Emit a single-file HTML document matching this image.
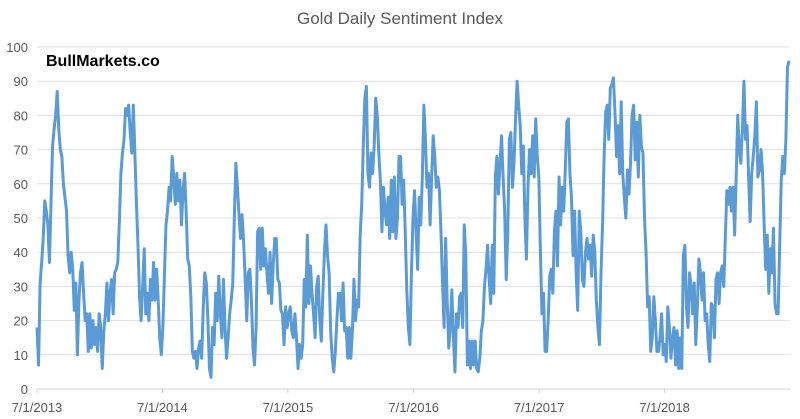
<!DOCTYPE html>
<html><head><meta charset="utf-8">
<style>
html,body{margin:0;padding:0;background:#fff;}
svg{display:block;font-family:"Liberation Sans",sans-serif;}
</style></head>
<body>
<svg id="chart" width="800" height="419" viewBox="0 0 800 419" xmlns="http://www.w3.org/2000/svg">
<rect width="800" height="419" fill="#fff"/>
<text x="400" y="24" text-anchor="middle" font-size="17" fill="#595959">Gold Daily Sentiment Index</text>
<g id="grid"></g>
<g id="yaxis"></g>
<g id="xaxis"></g>
<g id="series"></g>
<text x="46" y="66" font-size="16" font-weight="bold" fill="#000">BullMarkets.co</text>
</svg>
<script>
const yTicks = [0,10,20,30,40,50,60,70,80,90,100];
const xTickLabels = ["7/1/2013","7/1/2014","7/1/2015","7/1/2016","7/1/2017","7/1/2018"];
const xTickDates = ["2013-07-01","2014-07-01","2015-07-01","2016-07-01","2017-07-01","2018-07-01"];
const startDate = "2013-07-01";
const endDate = "2019-06-28";
const sentiment = [
18,7,31,37,44,55,52,48,37,54,71,76,80,87,76,70,68,60,56,52,39,34,40,35,23,31,10,26,34,37,28,20,22,11,22,12,20,13,18,11,22,18,6,17,22,31,20,28,32,22,34,35,37,49,63,69,73,82,80,83,75,69,83,69,54,42,27,20,30,41,22,28,20,32,26,37,26,35,26,15,10,18,33,48,52,59,55,68,62,54,63,55,61,48,58,63,52,38,36,27,11,9,11,6,12,14,9,24,34,31,20,6,3.4,18,13,28,20,33,22,15,32,18,9,15,22,26,31,50,66,59,51,44,51,43,32,20,34,35,26,12,7,18,46,47,35,47,36,41,34,28,40,25,36,44,44,32,31,23,22,13,24,18,22,24,17,15,
22,15,6,13,9,13,32,24,45,25,36,28,22,15,30,33,20,14,28,40,48,39,34,17,9,5,11,20,28,28,20,31,17,18,9,18,9,17,32,20,26,24,45,54,71,85,88.5,63,59,69,63,71,85,80,69,61,46,59,52,48,56,44,61,46,62,44,50,68,68,54,61,46,29,18,13,34,50,58,46,35,56,48,62,83,73,59,63,48,62,74,68,59,62,58,46,31,18,44,26,12,18,29,15,5,22,18,27,28,18,48,39,7,14,6,14,7,14,6,5,9,17,20,30,35,42,32,25,42,28,62,68,57,66,74,62,52,32,46,73,75,59,66,79,90,83,77,63,71,50,38,59,70,63,74,62,79,68,62,40,22,28,11,
11,20,33,35,28,46,52,36,62,48,59,52,64,78,79,63,56,39,52,34,23,52,46,32,30,40,44,38,42,33,45,40,26,18,13,34,48,68,81,83,73,88,89,91,81,68,77,63,84,63,56,50,64,57,66,80,83,67,78,62,80,71,69,50,40,24,27,11,15,27,20,11,11,15,22,10,13,8,24,18,9,15,18,7,17,6,15,6,39,42,24,18,34,30,22,31,13,24,38,34,26,34,20,22,13,8,25,24,15,32,34,25,34,36,30,44,58,54,59,52,59,45,62,80,70,66,76,90,73,77,62,49,63,68,74,84,62,64,70,63,48,35,45,28,41,34,47,25,22,22,42,61,68,63,73,94,96
];

const NS = "http://www.w3.org/2000/svg";
const L = 37, R = 789, T = 47, B = 389;
const t0 = Date.parse(startDate), t1 = Date.parse(endDate);
function xScale(t){ return L + (t - t0) / (t1 - t0) * (R - L); }
function yScale(v){ return B - v / 100 * (B - T); }

const grid = document.getElementById('grid');
const yaxis = document.getElementById('yaxis');
yTicks.forEach(v => {
  const y = yScale(v);
  const ln = document.createElementNS(NS, 'line');
  ln.setAttribute('x1', L); ln.setAttribute('x2', 790);
  ln.setAttribute('y1', y); ln.setAttribute('y2', y);
  ln.setAttribute('stroke', v === 0 ? '#d0d0d0' : '#e0e0e0');
  ln.setAttribute('stroke-width', '1');
  
  
  grid.appendChild(ln);
  const tx = document.createElementNS(NS, 'text');
  tx.setAttribute('x', 28); tx.setAttribute('y', y + 5);
  tx.setAttribute('text-anchor', 'end');
  tx.setAttribute('font-size', '13');
  tx.setAttribute('fill', '#595959');
  tx.textContent = v;
  
  
  yaxis.appendChild(tx);
});

const xaxis = document.getElementById('xaxis');
xTickDates.forEach((d, i) => {
  const x = xScale(Date.parse(d));
  const tk = document.createElementNS(NS, 'line');
  tk.setAttribute('x1', x); tk.setAttribute('x2', x);
  tk.setAttribute('y1', B); tk.setAttribute('y2', B + 4);
  tk.setAttribute('stroke', '#d0d0d0');
  
  
  xaxis.appendChild(tk);
  const tx = document.createElementNS(NS, 'text');
  tx.setAttribute('x', x); tx.setAttribute('y', 412);
  tx.setAttribute('text-anchor', 'middle');
  tx.setAttribute('font-size', '13');
  tx.setAttribute('fill', '#595959');
  tx.textContent = xTickLabels[i];
  
  
  xaxis.appendChild(tx);
});

const n = sentiment.length;
let d = '';
sentiment.forEach((v, i) => {
  const t = t0 + (t1 - t0) * i / (n - 1);
  d += (i ? 'L' : 'M') + xScale(t).toFixed(2) + ',' + yScale(v).toFixed(2);
});
const path = document.createElementNS(NS, 'path');
path.setAttribute('d', d);
path.setAttribute('fill', 'none');
path.setAttribute('stroke', '#5b9bd5');
path.setAttribute('stroke-width', '3');
path.setAttribute('stroke-linejoin', 'round');


document.getElementById('series').appendChild(path);
</script>
</body></html>
